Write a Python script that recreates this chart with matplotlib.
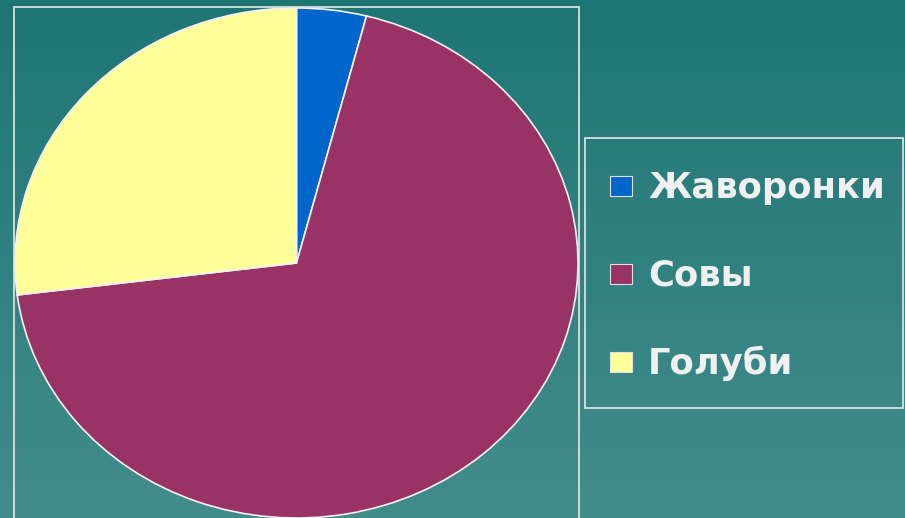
import numpy as np
import matplotlib.pyplot as plt
from matplotlib.patches import Rectangle

# data (percent of group)
categories = ['Жаворонки', 'Совы', 'Голуби']
shares = [4, 69, 27]
colors = ['#0066CC', '#993366', '#FFFF99']

W, H = 905, 518
fig = plt.figure(figsize=(W / 100, H / 100), dpi=100)

# teal vertical gradient background
bg = fig.add_axes([0, 0, 1, 1], zorder=-10)
grad = np.linspace(0, 1, 256).reshape(-1, 1)
top = np.array([0x1E, 0x76, 0x74]) / 255
bot = np.array([0x43, 0x8C, 0x8C]) / 255
img = top + grad[..., None] * (bot - top)
bg.imshow(img, aspect='auto', extent=[0, 1, 0, 1], origin='upper')
bg.set_axis_off()

def fx(px):
    return px / W

def fy(py):
    return 1 - py / H

# plot-area frame
fig.patches.append(Rectangle((fx(14), fy(530)), fx(579) - fx(14), fy(7) - fy(530),
                             transform=fig.transFigure, fill=False,
                             edgecolor='#E8E8E8', lw=1.2, zorder=1))

# pie (slightly elliptical, like the original)
ax = fig.add_axes([fx(15), fy(518), fx(578) - fx(15), fy(8) - fy(518)])
ax.pie(shares, colors=colors, startangle=90, counterclock=False,
       wedgeprops=dict(edgecolor='#F4F0F4', linewidth=1.2))
ax.set_aspect('auto')
ax.set_xlim(-1, 1)
ax.set_ylim(-1, 1)
ax.set_axis_off()

# legend box
fig.patches.append(Rectangle((fx(585), fy(408)), fx(903) - fx(585), fy(138) - fy(408),
                             transform=fig.transFigure, fill=False,
                             edgecolor='#E8E8E8', lw=1.2))
centers = [186, 274, 362]
for name, col, cy in zip(categories, colors, centers):
    fig.patches.append(Rectangle((fx(610), fy(cy + 10)), fx(632) - fx(610), fy(cy - 10) - fy(cy + 10),
                                 transform=fig.transFigure, facecolor=col,
                                 edgecolor='#E0E0E0', lw=0.8))
    fig.text(fx(648), fy(cy + 12), name, fontsize=25.5, fontweight='bold',
             family='DejaVu Sans', color='#F0F0F0', va='baseline', ha='left')

fig.savefig('out.png', dpi=100)
